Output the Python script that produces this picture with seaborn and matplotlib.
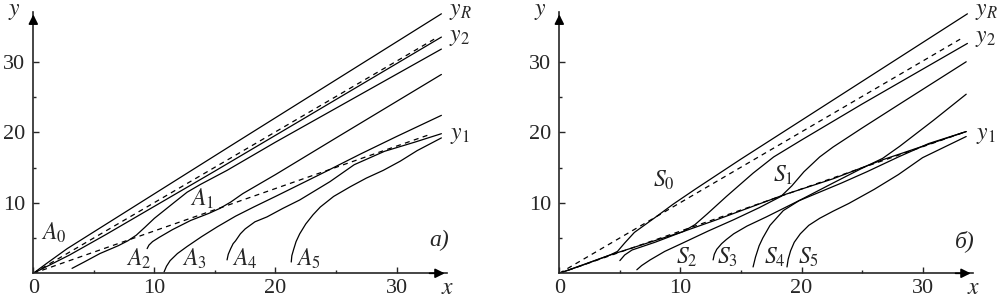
import matplotlib
matplotlib.use("Agg")
import matplotlib.pyplot as plt
import seaborn as sns

# --- panel a) : modes A0..A5 ---
a_top_x = [0, 1.1, 2.8, 16.5, 33.7]
a_top_y = [0, 1.4, 3.5, 18.3, 36.8]
a_1_x = [0, 3, 6, 10, 15, 22, 33.7]
a_1_y = [0, 2.6, 5.5, 9.5, 14.5, 21.6, 33.5]
a_2_x = [3.2, 4.2, 5.5, 7, 7.8, 8.5, 9.2, 10, 11.6, 12.7, 13.8, 16, 20, 33.7]
a_2_y = [0.7, 1.6, 2.8, 3.9, 4.6, 5.4, 6.5, 7.8, 10.0, 11.5, 12.6, 14.6, 18.6, 31.8]
a_3_x = [9.4, 9.55, 9.85, 10.4, 11.5, 13, 14.5, 15.4, 16.3, 17.3, 18.5, 20, 25, 33.7]
a_3_y = [3.5, 4.0, 4.5, 5.1, 6.2, 7.5, 8.5, 9.2, 10.1, 11.3, 12.5, 14.0, 19.2, 28.2]
a_4_x = [10.8, 11.0, 11.3, 11.9, 12.7, 13.9, 15.2, 16.7, 18.2, 20, 22, 24, 27, 30, 33.7]
a_4_y = [0.2, 1.0, 1.8, 2.8, 3.8, 5.2, 6.6, 8.1, 9.4, 10.9, 12.6, 14.3, 16.9, 19.4, 22.4]
a_5_x = [16, 16.1, 16.3, 16.5, 16.7, 17.1, 17.5, 18.3, 19.3, 20.6, 22, 24.5, 26.5, 29, 31.5, 33.7]
a_5_y = [1.9, 2.7, 3.5, 4.2, 4.6, 5.6, 6.3, 7.3, 8.0, 9.2, 10.4, 13.0, 15.4, 17.3, 18.6, 19.8]
a_6_x = [21.3, 21.35, 21.5, 21.7, 22, 22.5, 23.1, 23.7, 24.8, 26.2, 27.5, 28.9, 30.3, 31.7, 33.7]
a_6_y = [1.6, 2.5, 3.4, 4.5, 5.6, 7.0, 8.3, 9.4, 10.9, 12.3, 13.5, 14.6, 15.9, 17.4, 19.2]
a_y2_x = [0, 33.1]
a_y2_y = [0, 33.2]
a_y1_x = [0, 32.6]
a_y1_y = [0, 19.6]

# --- panel б) : modes S0..S5 ---
b_top_x = [0, 2, 4.2, 4.8, 5.4, 6.2, 7.9, 9.4, 11.2, 15, 20, 33.7]
b_top_y = [0, 1.2, 2.6, 3.1, 4.3, 5.8, 7.9, 9.8, 11.9, 16.2, 21.7, 36.8]
b_y1s_x = [0, 4.2, 10.2, 13, 18.5, 22.6, 26.7, 33.6]
b_y1s_y = [0, 2.6, 5.9, 7.6, 11.1, 13.4, 16.1, 20.1]
b_1_x = [5.0, 5.4, 6.0, 7.9, 10.2, 11.2, 12.2, 13.8, 16.0, 17.7, 20, 25, 33.7]
b_1_y = [1.8, 2.6, 3.3, 4.4, 5.9, 6.9, 8.4, 10.9, 14.2, 16.5, 18.9, 24.0, 32.6]
b_2_x = [6.4, 6.8, 7.5, 8.7, 10.2, 12.3, 14.4, 16.5, 18.3, 19.2, 20.2, 21.5, 22.6, 25, 28.1, 33.6]
b_2_y = [0.5, 1.1, 1.9, 3.1, 4.3, 6.0, 7.6, 9.3, 10.9, 12.4, 14.4, 16.5, 17.9, 20.6, 24.0, 30.0]
b_3_x = [12.7, 12.8, 13.0, 13.4, 13.8, 14.4, 15.5, 17.1, 19.9, 22.6, 25, 26.7, 28.1, 30.9, 33.6]
b_3_y = [1.9, 2.7, 3.4, 4.2, 4.8, 5.6, 6.7, 8.0, 10.4, 12.8, 14.9, 16.3, 18.0, 21.7, 25.4]
b_4_x = [16.0, 16.2, 16.5, 16.8, 17.4, 18.5, 19.8, 21.2, 23.3, 25.4, 28, 30.5, 33.6]
b_4_y = [0.9, 2.3, 3.9, 5.0, 6.8, 8.9, 10.3, 11.3, 12.8, 14.4, 16.5, 18.4, 20.1]
b_5_x = [18.8, 18.9, 19.1, 19.4, 19.9, 20.6, 21.5, 22.6, 23.9, 26, 28, 30, 33.6]
b_5_y = [0.9, 2.0, 3.2, 4.4, 5.6, 6.8, 7.8, 8.8, 9.9, 11.9, 14.0, 16.4, 19.4]
b_y2_x = [0, 33.1]
b_y2_y = [0, 33.2]
b_y1_x = [0, 33.6]
b_y1_y = [0, 20.1]

x_ticks = [0, 10, 20, 30]
y_ticks = [10, 20, 30]

# подписи: (текст, x, y)
a_labels = [(r"$A_0$", 1.7, 5.8), (r"$A_1$", 13.9, 10.6), (r"$A_2$", 8.7, 2.1),
            (r"$A_3$", 13.3, 2.1), (r"$A_4$", 17.5, 2.1), (r"$A_5$", 22.7, 2.1),
            (r"$y_2$", 35.2, 33.5), (r"$y_1$", 35.2, 19.6)]
b_labels = [(r"$S_0$", 8.6, 13.2), (r"$S_1$", 18.5, 13.9), (r"$S_2$", 10.5, 2.3),
            (r"$S_3$", 13.9, 2.3), (r"$S_4$", 17.8, 2.3), (r"$S_5$", 20.6, 2.3),
            (r"$y_2$", 35.2, 33.3), (r"$y_1$", 35.2, 19.6)]

sns.set_style("ticks")
plt.rcParams["font.family"] = ["Liberation Serif", "DejaVu Serif"]
plt.rcParams["mathtext.fontset"] = "stix"

fig = plt.figure(figsize=(9.97, 3.0), dpi=100)
ax_a = fig.add_axes([0.0334, 0.089, 0.4154, 0.872])
ax_b = fig.add_axes([0.561, 0.089, 0.4154, 0.872])

LW = 0.9
DASH = (0, (4, 3.5))

solid_a = [(a_top_x, a_top_y), (a_1_x, a_1_y), (a_2_x, a_2_y), (a_3_x, a_3_y),
           (a_4_x, a_4_y), (a_5_x, a_5_y), (a_6_x, a_6_y)]
dashed_a = [(a_y2_x, a_y2_y), (a_y1_x, a_y1_y)]
solid_b = [(b_top_x, b_top_y), (b_y1s_x, b_y1s_y), (b_1_x, b_1_y), (b_2_x, b_2_y),
           (b_3_x, b_3_y), (b_4_x, b_4_y), (b_5_x, b_5_y)]
dashed_b = [(b_y2_x, b_y2_y), (b_y1_x, b_y1_y)]

for ax, solid, dashed, labels, tag in [(ax_a, solid_a, dashed_a, a_labels, "a)"),
                                       (ax_b, solid_b, dashed_b, b_labels, "б)")]:
    for xs, ys in solid:
        sns.lineplot(x=xs, y=ys, ax=ax, color="black", lw=LW, sort=False, estimator=None)
    for xs, ys in dashed:
        sns.lineplot(x=xs, y=ys, ax=ax, color="black", lw=LW, ls=DASH, sort=False, estimator=None)

    ax.set_xlim(0, 34.2)
    ax.set_ylim(0, 37.1)
    ax.set_xticks(x_ticks)
    ax.set_xticks([5, 15, 25], minor=True)
    ax.set_yticks(y_ticks)
    ax.set_yticks([5, 15, 25], minor=True)
    ax.tick_params(which="major", direction="in", length=4.5, width=1, labelsize=16, pad=4)
    ax.tick_params(which="minor", direction="in", length=2, width=1)
    ax.tick_params(axis="y", pad=6)
    for s in ["top", "right"]:
        ax.spines[s].set_visible(False)
    for s in ["left", "bottom"]:
        ax.spines[s].set_linewidth(1.2)
    ax.set_xlabel("")
    ax.set_ylabel("")

    # стрелки осей
    ax.annotate("", xy=(1.0, 0), xytext=(0.95, 0), xycoords="axes fraction",
                arrowprops=dict(arrowstyle="-|>", color="black", lw=1.2, mutation_scale=14))
    ax.annotate("", xy=(0, 1.0), xytext=(0, 0.95), xycoords="axes fraction",
                arrowprops=dict(arrowstyle="-|>", color="black", lw=1.2, mutation_scale=14))

    for txt, tx, ty in labels:
        ax.text(tx, ty, txt, fontsize=17, ha="center", va="center")
    ax.text(35.3, 38.6, r"$y_R$", fontsize=17, ha="center", va="top", clip_on=False)
    ax.text(33.5, 4.6, tag, fontsize=17, style="italic", ha="center", va="center")
    ax.text(34.2, -3.6, r"$x$", fontsize=17, ha="center", va="bottom", clip_on=False)
    ax.text(-1.6, 38.6, r"$y$", fontsize=17, ha="center", va="top", clip_on=False)

fig.savefig("out.png", dpi=100)
